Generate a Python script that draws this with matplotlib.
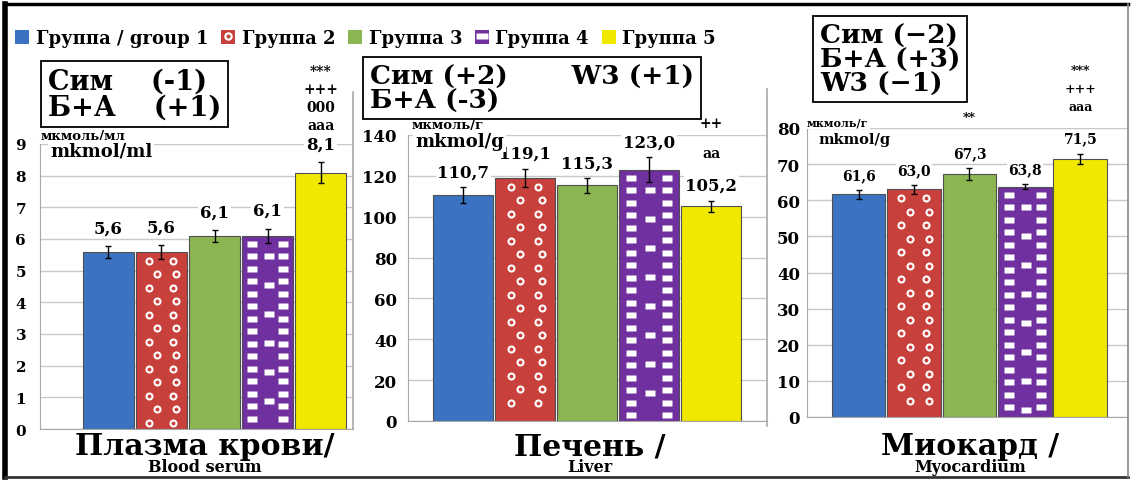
import numpy as np
import matplotlib
matplotlib.use('Agg')
import matplotlib.pyplot as plt
from matplotlib.patches import Patch
from matplotlib.lines import Line2D
from matplotlib.legend_handler import HandlerTuple

plt.rcParams['font.family'] = ['DejaVu Serif']
plt.rcParams['font.weight'] = 'bold'

W, H = 1131, 481

# data
groups = ['Группа / group 1', 'Группа 2', 'Группа 3', 'Группа 4', 'Группа 5']
colors = ['#3b73c2', '#c8403c', '#8cb651', '#7030a0', '#f0e800']

serum = [5.6, 5.6, 6.1, 6.1, 8.1]
serum_err = [0.19, 0.22, 0.19, 0.23, 0.33]
liver = [110.7, 119.1, 115.3, 123.0, 105.2]
liver_err = [4.0, 4.5, 3.7, 6.0, 2.7]
myo = [61.6, 63.0, 67.3, 63.8, 71.5]
myo_err = [1.3, 1.2, 1.7, 0.6, 1.4]

serum_sig = {4: ['aaa', '000', '+++', '***']}
liver_sig = {4: ['aa', '++']}
myo_sig = {2: ['**'], 4: ['aaa', '+++', '***']}

RECT = [(-1, -0.6), (1, -0.6), (1, 0.6), (-1, 0.6), (-1, -0.6)]

fig = plt.figure(figsize=(W / 100, H / 100), dpi=100)


def px(x0, y0, w, h):
    return [x0 / W, 1 - (y0 + h) / H, w / W, h / H]


def dress(ax, bars):
    # white rings on group 2, white bricks on group 4
    t = ax.transData
    per_px = 1.0 / (t.transform((0, 1))[1] - t.transform((0, 0))[1])
    b = bars[1]
    x0, w, top = b.get_x(), b.get_width(), b.get_height()
    y = top - 9 * per_px
    k = 0
    xs, ys = [], []
    while y > 5 * per_px:
        fr = [0.26, 0.72] if k % 2 == 0 else [0.42, 0.78]
        for f in fr:
            xs.append(x0 + f * w)
            ys.append(y)
        y -= 13.5 * per_px
        k += 1
    ax.plot(xs, ys, 'o', ms=4.3, mfc=colors[1], mec='white', mew=1.5, zorder=4)

    b = bars[3]
    x0, w, top = b.get_x(), b.get_width(), b.get_height()
    xs, ys = [], []
    y = top - 8 * per_px
    while y > 5 * per_px:
        for f in [0.2, 0.8]:
            xs.append(x0 + f * w)
            ys.append(y)
        y -= 12.5 * per_px
    y = top - 20 * per_px
    while y > 5 * per_px:
        xs.append(x0 + 0.52 * w)
        ys.append(y)
        y -= 29 * per_px
    ax.plot(xs, ys, ls='none', marker=RECT, ms=7, mfc='white', mec='none', zorder=4)


def panel(rect, vals, errs, ymax, ystep, xlim, tick_fs, pad, lab_fs, lab_off, sig, sig_fs, sig_steps):
    ax = fig.add_axes(rect)
    x = np.arange(len(vals))
    bars = ax.bar(x, vals, width=0.97, color=colors, edgecolor='#505050', linewidth=0.8, zorder=2)
    ax.errorbar(x, vals, yerr=errs, fmt='none', ecolor='black', elinewidth=1,
                capsize=2, capthick=1, zorder=5)
    ax.set_xlim(*xlim)
    ax.set_ylim(0, ymax)
    ax.set_yticks(np.arange(0, ymax + ystep / 2, ystep))
    ax.set_xticks([])
    ax.yaxis.grid(True, color='#c8c8c8', lw=1)
    ax.set_axisbelow(True)
    ax.patch.set_alpha(0)
    for s in ['top', 'right']:
        ax.spines[s].set_visible(False)
    for s in ['left', 'bottom']:
        ax.spines[s].set_color('#a8a8a8')
    ax.tick_params(axis='y', length=0, pad=pad, labelsize=tick_fs)
    dress(ax, bars)
    box = dict(boxstyle='square,pad=0.1', fc='white', ec='none')
    for i, (v, e) in enumerate(zip(vals, errs)):
        ax.annotate(f'{v:.1f}'.replace('.', ','), (i, v + e), xytext=(0, lab_off),
                    textcoords='offset pixels', ha='center', va='center',
                    fontsize=lab_fs, bbox=box, zorder=6)
        for j, s in enumerate(sig.get(i, [])):
            ax.annotate(s, (i, v + e), xytext=(0, lab_off + sig_steps[i][j]),
                        textcoords='offset pixels', ha='center', va='center',
                        fontsize=sig_fs, bbox=box, zorder=6)
    return ax


panel(px(40, 145, 313, 285), serum, serum_err, 9, 1, (-1.29, 4.61), 11, 10, 12, 18,
      serum_sig, 10, {4: [19, 37, 55, 73]})
panel(px(408, 136, 359, 286), liver, liver_err, 140, 20, (-0.89, 4.90), 12, 8, 12, 15,
      liver_sig, 10, {4: [33, 63]})
panel(px(807, 129, 321, 289), myo, myo_err, 80, 10, (-0.93, 4.86), 12, 5, 10, 15,
      myo_sig, 9, {2: [35], 4: [32, 50, 68]})

# unit labels
wbox = dict(boxstyle='square,pad=0.1', fc='white', ec='none')
units = [(41, 137, 'мкмоль/мл', 9.5), (50, 152, 'mkmol/ml', 13),
         (412, 126, 'мкмоль/г', 9.5), (415, 142, 'mkmol/g', 13),
         (807, 123, 'мкмоль/г', 8), (818, 140, 'mkmol/g', 10.5)]
for ux, uy, ut, fs in units:
    fig.text(ux / W, 1 - uy / H, ut, fontsize=fs, ha='left', va='center', bbox=wbox)

# substance boxes
frame = dict(boxstyle='square,pad=0.25', fc='white', ec='black', lw=1.3)
fig.text(48 / W, 1 - 95 / H, 'Сим    (-1)\nБ+А    (+1)', fontsize=19.5, ha='left',
         va='center', linespacing=0.95, bbox=frame)
fig.text(370 / W, 1 - 89 / H, 'Сим (+2)       W3 (+1)\nБ+А (-3)', fontsize=19, ha='left',
         va='center', linespacing=0.95, bbox=frame)
fig.text(820 / W, 1 - 60 / H, 'Сим (−2)\nБ+А (+3)\nW3 (−1)', fontsize=19, ha='left',
         va='center', linespacing=0.95, bbox=frame)

# organ captions
caps = [(205, 'Плазма крови/', 'Blood serum'), (590, 'Печень /', 'Liver'),
        (970, 'Миокард /', 'Myocardium')]
for cx, big, small in caps:
    fig.text(cx / W, 1 - 447 / H, big, fontsize=21.5, ha='center', va='center')
    fig.text(cx / W, 1 - 468 / H, small, fontsize=11.5, ha='center', va='center')

# legend
handles = [Patch(fc=colors[0], ec='none'),
           (Patch(fc=colors[1], ec='none'),
            Line2D([], [], ls='none', marker='o', ms=4.5, mfc=colors[1], mec='white', mew=1.6)),
           Patch(fc=colors[2], ec='none'),
           (Patch(fc=colors[3], ec='none'),
            Line2D([], [], ls='none', marker=RECT, ms=8, mfc='white', mec='none')),
           Patch(fc=colors[4], ec='none')]
fig.legend(handles, groups, loc='upper left', bbox_to_anchor=(15 / W, 1 - 30 / H), ncol=5,
           frameon=False, fontsize=13, handlelength=0.8, handleheight=0.8,
           handletextpad=0.35, columnspacing=0.7, borderpad=0, borderaxespad=0,
           handler_map={tuple: HandlerTuple(ndivide=1)})

# panel separators and outer frame
for sx, y0, y1 in [(353, 93, 430), (767, 90, 427)]:
    fig.add_artist(Line2D([sx / W, sx / W], [1 - y0 / H, 1 - y1 / H], color='#a8a8a8', lw=1.2))
fig.add_artist(Line2D([5 / W, 5 / W], [1 - 5 / H, 1 - 478 / H], color='black', lw=4))
fig.add_artist(Line2D([5 / W, 1128 / W], [1 - 5 / H, 1 - 5 / H], color='black', lw=2.5))
fig.add_artist(Line2D([5 / W, 1128 / W], [1 - 478 / H, 1 - 478 / H], color='#333333', lw=2))
fig.add_artist(Line2D([1128 / W, 1128 / W], [1 - 5 / H, 1 - 478 / H], color='#888888', lw=1.2))

fig.savefig('out.png', dpi=100)
